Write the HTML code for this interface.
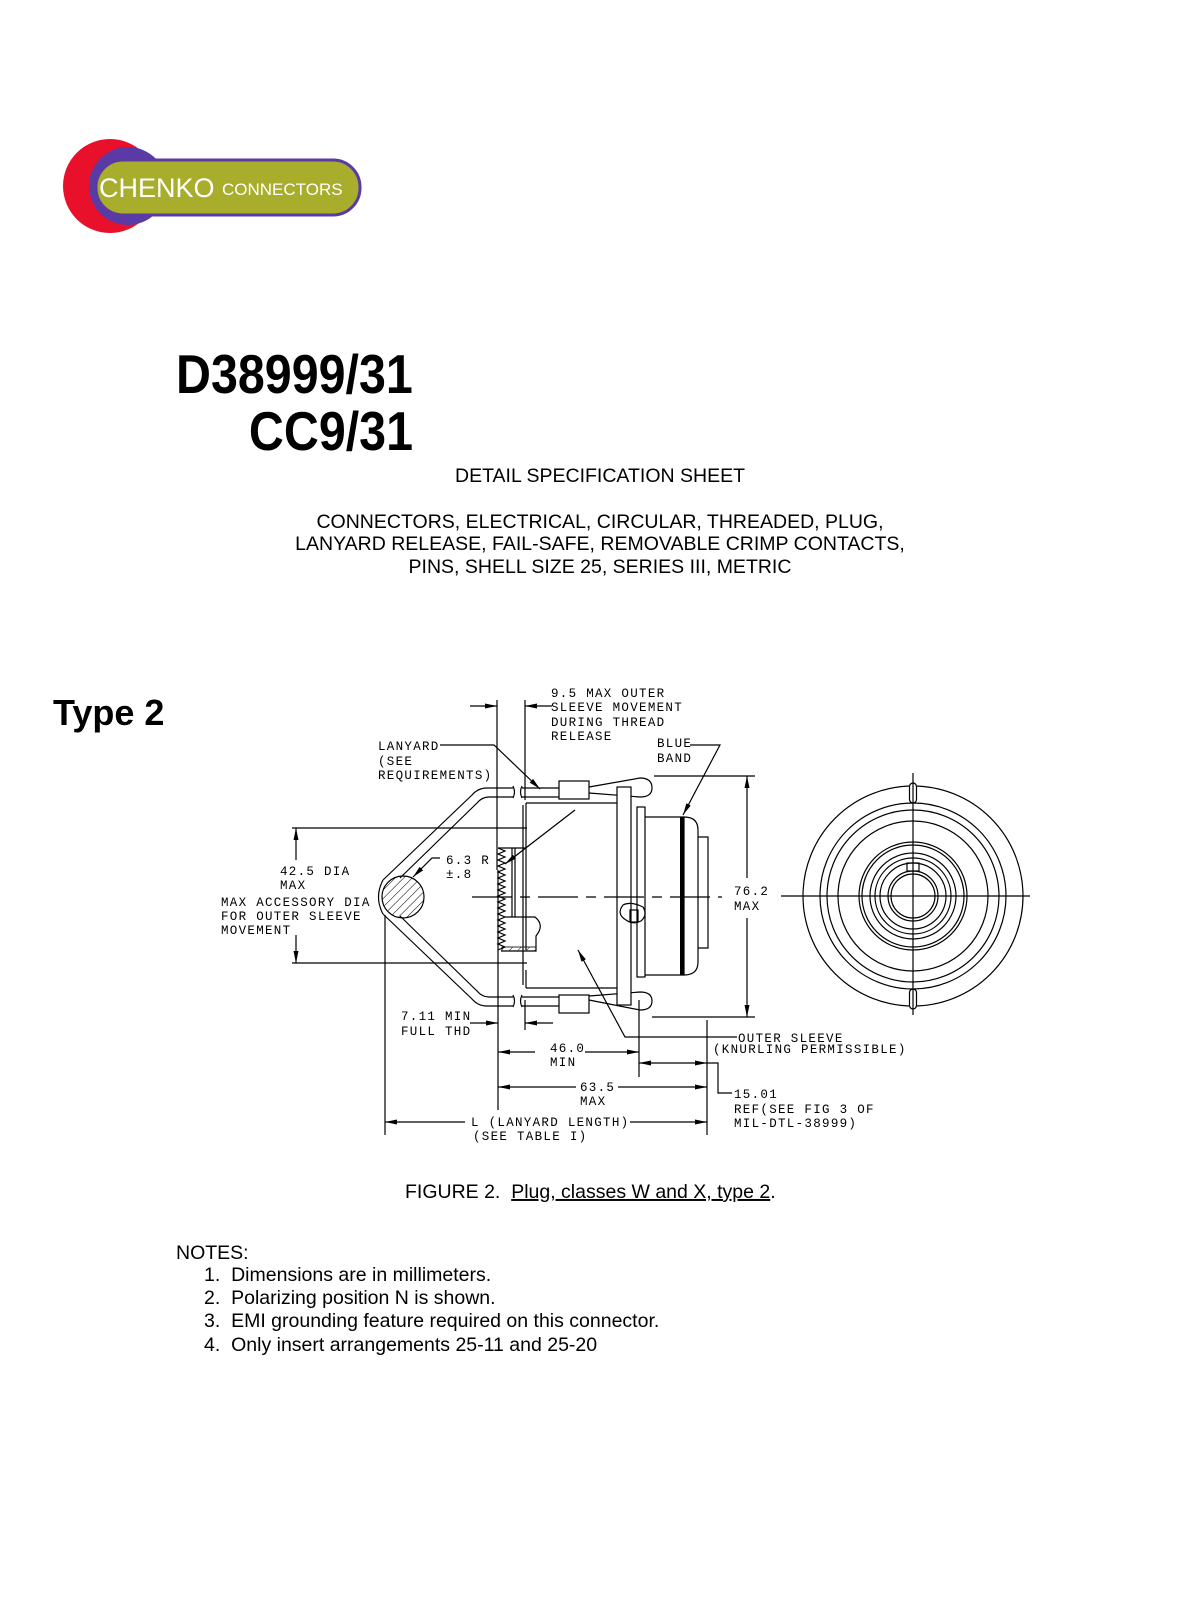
<!DOCTYPE html>
<html><head><meta charset="utf-8"><style>
body{margin:0;background:#fff}
svg{display:block}
.t{font-family:"Liberation Sans",Arial,sans-serif;fill:#000;white-space:pre}
.m{font-family:"Liberation Mono",monospace;font-size:12.5px;letter-spacing:1.3px;fill:#000}
.l{stroke:#000;stroke-width:1.2;fill:none}
.f{stroke:#000;stroke-width:1.2;fill:#fff}
</style></head><body>
<svg width="1203" height="1599" viewBox="0 0 1203 1599" xmlns="http://www.w3.org/2000/svg">
<defs>
<marker id="a" markerWidth="12" markerHeight="6" refX="12" refY="3" orient="auto" markerUnits="userSpaceOnUse"><path d="M0,0.5 L12,3 L0,5.5 Z" fill="#000"/></marker>
<pattern id="h" width="6" height="6" patternUnits="userSpaceOnUse" patternTransform="rotate(45)"><line x1="0" y1="0" x2="0" y2="6" stroke="#000" stroke-width="1"/></pattern>
</defs>
<!-- logo -->
<circle cx="110" cy="186" r="47" fill="#e8102a"/>
<circle cx="128" cy="186" r="39" fill="#5a3aa5"/>
<rect x="96" y="160" width="264" height="55" rx="27" fill="#a8ad2c" stroke="#5a3aa5" stroke-width="3"/>
<text x="99" y="197" class="t" font-size="27" style="fill:#fff">CHENKO</text>
<text x="222" y="195" class="t" font-size="17" style="fill:#fff">CONNECTORS</text>

<g transform="translate(176,393) scale(0.88,1)"><text class="t" font-size="55" font-weight="bold">D38999/31</text></g>
<g transform="translate(413,450) scale(0.88,1)"><text class="t" font-size="55" font-weight="bold" text-anchor="end">CC9/31</text></g>

<text x="600" y="482" class="t" font-size="19.5" text-anchor="middle">DETAIL SPECIFICATION SHEET</text>
<text x="600" y="528" class="t" font-size="19.5" text-anchor="middle">CONNECTORS, ELECTRICAL, CIRCULAR, THREADED, PLUG,</text>
<text x="600" y="550" class="t" font-size="19.5" text-anchor="middle">LANYARD RELEASE, FAIL-SAFE, REMOVABLE CRIMP CONTACTS,</text>
<text x="600" y="573" class="t" font-size="19.5" text-anchor="middle">PINS, SHELL SIZE 25, SERIES III, METRIC</text>

<text x="53" y="725" class="t" font-size="36" font-weight="bold">Type 2</text>

<!-- drawing -->
<g>
<text x="551" y="697" class="m">9.5 MAX OUTER</text>
<text x="551" y="711" class="m">SLEEVE MOVEMENT</text>
<text x="551" y="726" class="m">DURING THREAD</text>
<text x="551" y="740" class="m">RELEASE</text>
<text x="378" y="750" class="m">LANYARD</text>
<text x="378" y="765" class="m">(SEE</text>
<text x="378" y="779" class="m">REQUIREMENTS)</text>
<text x="657" y="747" class="m">BLUE</text>
<text x="657" y="762" class="m">BAND</text>
<text x="280" y="875" class="m">42.5 DIA</text>
<text x="280" y="889" class="m">MAX</text>
<text x="221" y="906" class="m">MAX ACCESSORY DIA</text>
<text x="221" y="920" class="m">FOR OUTER SLEEVE</text>
<text x="221" y="934" class="m">MOVEMENT</text>
<text x="446" y="864" class="m">6.3 R</text>
<text x="446" y="878" class="m">±.8</text>
<text x="734" y="895" class="m">76.2</text>
<text x="734" y="910" class="m">MAX</text>
<text x="401" y="1020" class="m">7.11 MIN</text>
<text x="401" y="1035" class="m">FULL THD</text>
<text x="738" y="1042" class="m">OUTER SLEEVE</text>
<text x="713" y="1053" class="m">(KNURLING PERMISSIBLE)</text>
<text x="550" y="1052" class="m">46.0</text>
<text x="550" y="1066" class="m">MIN</text>
<text x="580" y="1091" class="m">63.5</text>
<text x="580" y="1105" class="m">MAX</text>
<text x="734" y="1098" class="m">15.01</text>
<text x="734" y="1113" class="m">REF(SEE FIG 3 OF</text>
<text x="734" y="1127" class="m">MIL-DTL-38999)</text>
<text x="471" y="1126" class="m">L (LANYARD LENGTH)</text>
<text x="473" y="1140" class="m">(SEE TABLE I)</text>

<line class="l" x1="497" y1="700" x2="497" y2="870"/>
<line class="l" x1="525" y1="700" x2="525" y2="800"/>
<line class="l" x1="470" y1="706" x2="497" y2="706" marker-end="url(#a)"/>
<line class="l" x1="552" y1="706" x2="525" y2="706" marker-end="url(#a)"/>
<polyline class="l" points="440,745 494,745 540,789" marker-end="url(#a)"/>
<polyline class="l" points="690,745 720,745 683,815" marker-end="url(#a)"/>

<path class="l" d="M513,788 L487,788 Q478,788 472,795 L383,880"/>
<path class="l" d="M513,797 L489,797 Q482,797 477,803 L400,878"/>
<path class="l" d="M383,880 Q374,897 383,914"/>
<path class="l" d="M513,1006 L487,1006 Q478,1006 472,999 L383,914"/>
<path class="l" d="M513,997 L489,997 Q482,997 477,991 L400,916"/>
<path class="l" d="M522,788 L559,788 M522,797 L559,797 M522,997 L559,997 M522,1006 L559,1006"/>
<path class="l" d="M513,786 q3,6 0,12 M522,786 q-3,6 0,12 M513,995 q3,6 0,12 M522,995 q-3,6 0,12"/>
<circle cx="403" cy="897" r="21" fill="url(#h)" stroke="#000" stroke-width="1.2"/>
<polyline class="l" points="440,858 432,858 413,877" marker-end="url(#a)"/>

<path class="l" d="M589,787 L640,778 Q652,778 652,788 Q652,797 640,797 L589,793"/>
<path class="l" d="M589,1000 L640,1010 Q652,1010 652,1001 Q652,992 640,992 L589,996"/>
<rect class="f" x="559" y="781" width="30" height="18"/>
<rect class="f" x="559" y="995" width="30" height="18"/>

<line class="l" x1="292" y1="828" x2="527" y2="828"/>
<line class="l" x1="292" y1="963" x2="527" y2="963"/>
<line class="l" x1="296" y1="860" x2="296" y2="828" marker-end="url(#a)"/>
<line class="l" x1="296" y1="935" x2="296" y2="963" marker-end="url(#a)"/>

<path class="l" d="M526,803 L617,803 M526,988 L617,988 M526,803 L526,950 M526,970 L526,988"/>
<line class="l" x1="523" y1="805" x2="523" y2="985"/>
<path class="l" d="M498,848 l7,3 l-7,3 l7,3 l-7,3 l7,3 l-7,3 l7,3 l-7,3 l7,3 l-7,3 l7,3 l-7,3 l7,3 l-7,3 l7,3 l-7,3 l7,3 l-7,3 l7,3 l-7,3 l7,3 l-7,3 l7,3 l-7,3 l7,3 l-7,3 l7,3 l-7,3 l7,3 l-7,3 l7,3 l-7,3 l7,3 l-7,3"/>
<path class="l" d="M498,848 L526,848 M512,848 L512,917 M515,848 L515,917 M505,917 L535,917 Q545,925 536,936 L536,951 L501,951"/>
<rect x="502" y="947" width="34" height="4" fill="url(#h)" stroke="#000" stroke-width="0.8"/>
<rect class="f" x="617" y="787" width="14" height="218"/>
<rect class="f" x="637" y="807" width="8" height="170"/>
<path class="l" d="M645,817 L684,817 L684,975 L645,975"/>
<rect x="680" y="817" width="4" height="158" fill="#000"/>
<path class="l" d="M684,817 Q698,817 698,830 L698,962 Q698,975 684,975"/>
<path class="l" d="M698,837 L708,837 L708,948 L698,948"/>
<path class="l" d="M626,920 q-10,-6 -3,-15 q8,-4 20,2 q5,8 -2,14 q-8,4 -15,-1"/>
<rect class="l" x="630" y="910" width="8" height="12"/>
<line class="l" x1="472" y1="897" x2="722" y2="897" stroke-dasharray="40,8,10,8" stroke-width="1"/>
<line class="l" x1="575" y1="810" x2="505" y2="864" marker-end="url(#a)"/>
<polyline class="l" points="737,1037 625,1037 578,950" marker-end="url(#a)"/>

<line class="l" x1="654" y1="776" x2="755" y2="776"/>
<line class="l" x1="652" y1="1017" x2="755" y2="1017"/>
<line class="l" x1="747" y1="878" x2="747" y2="776" marker-end="url(#a)"/>
<line class="l" x1="747" y1="918" x2="747" y2="1017" marker-end="url(#a)"/>

<line class="l" x1="498" y1="870" x2="498" y2="1110"/>
<line class="l" x1="525" y1="1000" x2="525" y2="1030"/>
<line class="l" x1="470" y1="1023" x2="498" y2="1023" marker-end="url(#a)"/>
<line class="l" x1="553" y1="1023" x2="525" y2="1023" marker-end="url(#a)"/>
<line class="l" x1="639" y1="1000" x2="639" y2="1077"/>
<line class="l" x1="707" y1="1020" x2="707" y2="1135"/>
<line class="l" x1="385" y1="915" x2="385" y2="1135"/>
<line class="l" x1="535" y1="1052" x2="498" y2="1052" marker-end="url(#a)"/>
<line class="l" x1="585" y1="1052" x2="639" y2="1052" marker-end="url(#a)"/>
<line class="l" x1="672" y1="1063" x2="639" y2="1063" marker-end="url(#a)"/>
<line class="l" x1="672" y1="1063" x2="707" y2="1063" marker-end="url(#a)"/>
<polyline class="l" points="707,1063 718,1063 718,1093 732,1093"/>
<line class="l" x1="576" y1="1087" x2="498" y2="1087" marker-end="url(#a)"/>
<line class="l" x1="618" y1="1087" x2="707" y2="1087" marker-end="url(#a)"/>
<line class="l" x1="465" y1="1122" x2="385" y2="1122" marker-end="url(#a)"/>
<line class="l" x1="630" y1="1122" x2="707" y2="1122" marker-end="url(#a)"/>

<g class="l">
<circle cx="913" cy="896" r="110"/>
<circle cx="913" cy="896" r="93"/>
<circle cx="913" cy="896" r="86"/>
<circle cx="913" cy="896" r="75"/>
<circle cx="913" cy="896" r="54"/>
<circle cx="913" cy="896" r="51"/>
<circle cx="913" cy="896" r="43"/>
<circle cx="913" cy="896" r="38"/>
<circle cx="913" cy="896" r="33"/>
<circle cx="913" cy="896" r="25"/>
<circle cx="913" cy="896" r="22"/>
<rect x="907" y="863" width="12" height="8"/>
</g>
<rect x="909.5" y="783" width="7" height="20" rx="3.5" class="f"/>
<rect x="909.5" y="989" width="7" height="20" rx="3.5" class="f"/>
<line class="l" x1="913" y1="773" x2="913" y2="1015"/>
<line class="l" x1="781" y1="896" x2="1030" y2="896"/>
</g>

<text x="405" y="1198" class="t" font-size="19.5">FIGURE 2.  <tspan text-decoration="underline">Plug, classes W and X, type 2</tspan>.</text>
<text x="176" y="1259" class="t" font-size="19.5">NOTES:</text>
<text x="204" y="1281" class="t" font-size="19.5">1.  Dimensions are in millimeters.</text>
<text x="204" y="1304" class="t" font-size="19.5">2.  Polarizing position N is shown.</text>
<text x="204" y="1327" class="t" font-size="19.5">3.  EMI grounding feature required on this connector.</text>
<text x="204" y="1351" class="t" font-size="19.5">4.  Only insert arrangements 25-11 and 25-20</text>
</svg>
</body></html>
